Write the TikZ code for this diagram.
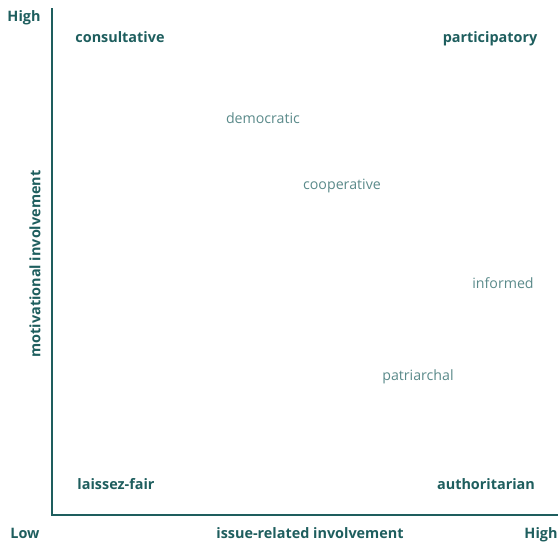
\documentclass[tikz,border=0pt]{standalone}
\usepackage{fontspec}
\setmainfont{Open Sans}
\usepackage{xcolor}
\definecolor{tealdark}{HTML}{1E5E5E}
\definecolor{teallight}{HTML}{5A8A8A}

\begin{document}
\begin{tikzpicture}[x=1pt, y=-1pt,
        corner/.style={text=tealdark, anchor=base, font=\bfseries\fontsize{14.4}{16}\selectfont},
        style/.style={text=teallight, anchor=base, font=\fontsize{14.2}{16}\selectfont}]
        \useasboundingbox (0,0) rectangle (558,542);
        % axes
        \coordinate (top) at (52,8);
        \coordinate (origin) at (52,515);
        \coordinate (right) at (558,515);
        \draw[tealdark, line width=1.6pt] (top) -- (origin) -- (right);
        % axis ends
        \node[corner] (yhigh) at (24,21) {High};
        \node[corner] (low) at (25,538) {Low};
        \node[corner] (xhigh) at (541,538) {High};
        \node[corner] (xlabel) at (310,538) {issue-related involvement};
        \node[corner, rotate=90, anchor=center] (ylabel) at (35,264) {motivational involvement};
        % corners
        \node[corner] (consultative) at (120,42) {consultative};
        \node[corner] (participatory) at (490,42) {participatory};
        \node[corner] (laissez) at (116,489) {laissez-fair};
        \node[corner] (authoritarian) at (486,489) {authoritarian};
        % styles in between
        \node[style] (democratic) at (263,123) {democratic};
        \node[style] (cooperative) at (342,189) {cooperative};
        \node[style] (informed) at (503,288) {informed};
        \node[style] (patriarchal) at (418,380) {patriarchal};
    \end{tikzpicture}
\end{document}
